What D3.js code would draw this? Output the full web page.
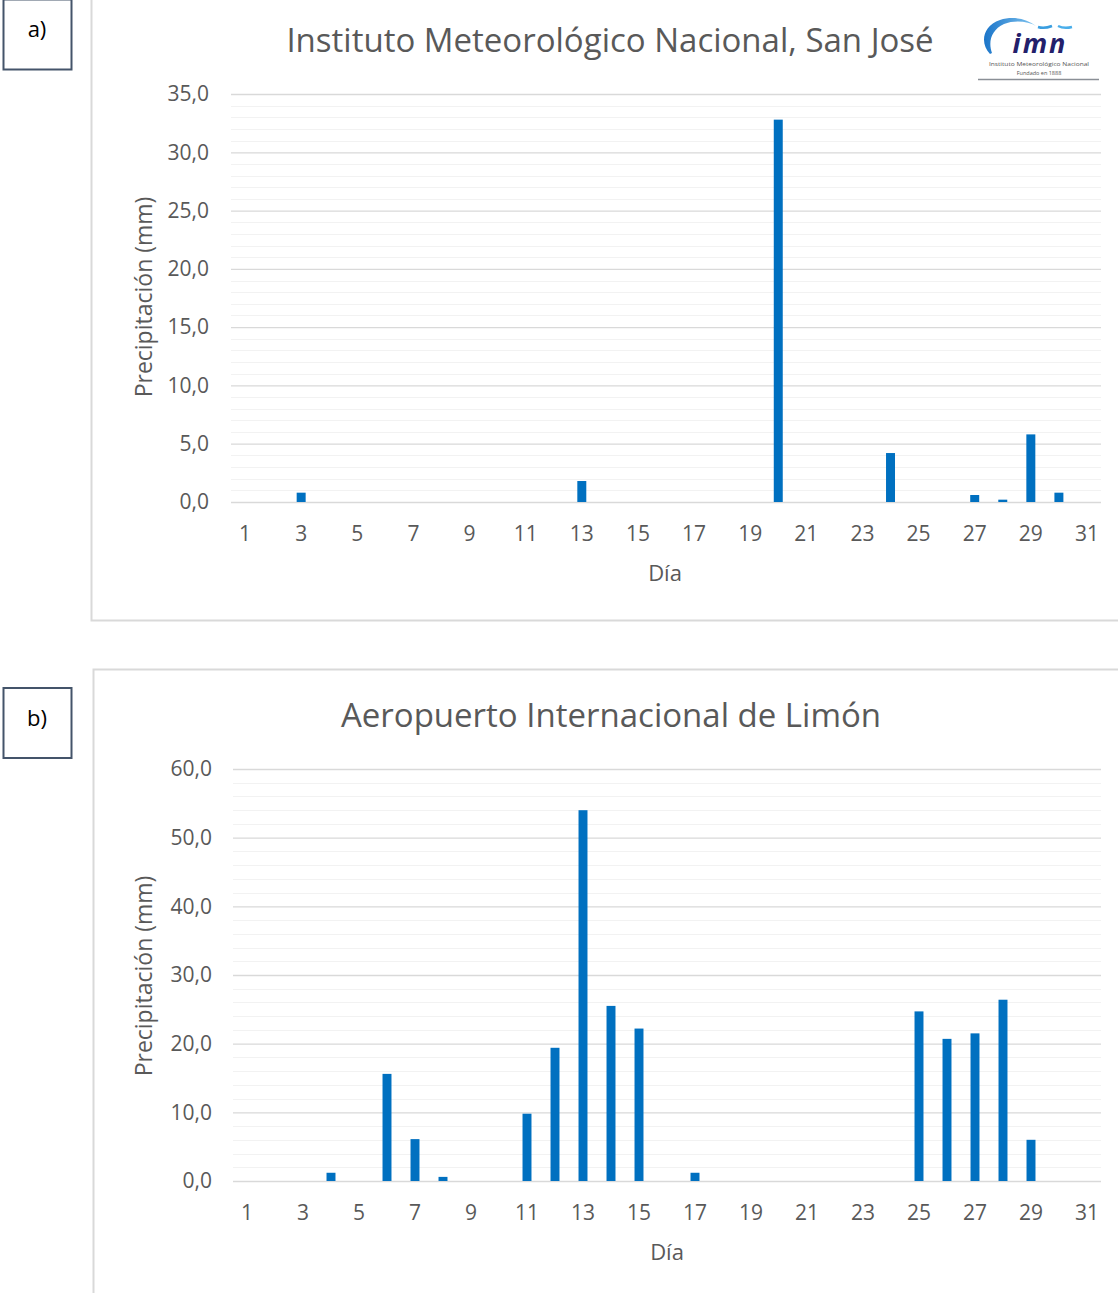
<!DOCTYPE html>
<html>
<head>
<meta charset="utf-8">
<script src="https://cdn.jsdelivr.net/npm/d3@7/dist/d3.min.js"></script>
<style>
  html, body { margin: 0; padding: 0; background: #fff; }
  svg { display: block; }
  text { font-family: "Open Sans", "Noto Sans", sans-serif; }
</style>
</head>
<body>
<svg id="fig" width="1118" height="1293"></svg>
<script>
// Daily precipitation (mm) by day of month
const days = d3.range(1, 32);
const tickDays = days.filter(d => d % 2 === 1);

const sanJose = [
  0, 0, 0.8, 0, 0, 0, 0, 0, 0, 0,
  0, 0, 1.8, 0, 0, 0, 0, 0, 0, 32.8,
  0, 0, 0, 4.2, 0, 0, 0.6, 0.2, 5.8, 0.8, 0
];
const limon = [
  0, 0, 0, 1.2, 0, 15.6, 6.1, 0.6, 0, 0,
  9.8, 19.4, 54.0, 25.5, 22.2, 0, 1.2, 0, 0, 0,
  0, 0, 0, 0, 24.7, 20.7, 21.5, 26.4, 6.0, 0, 0
];

const sanJoseTicks = [0, 5, 10, 15, 20, 25, 30, 35];
const limonTicks = [0, 10, 20, 30, 40, 50, 60];

const titleA = "Instituto Meteorológico Nacional, San José";
const titleB = "Aeropuerto Internacional de Limón";
const yTitle = "Precipitación (mm)";
const xTitle = "Día";

const svg = d3.select("#fig");
const fmt = v => d3.format(".1f")(v).replace(".", ",");
const textColor = "#595959";
const barColor = "#0070c0";

// Chart frames (light grey borders)
const frameColor = "#d9d9d9";
svg.append("path")
  .attr("d", "M91.5,0 V620.5 H1118")
  .attr("fill", "none").attr("stroke", frameColor).attr("stroke-width", 2);
svg.append("path")
  .attr("d", "M93.5,1293 V669.5 H1118")
  .attr("fill", "none").attr("stroke", frameColor).attr("stroke-width", 2);

// Panel labels
function panelLabel(y0, txt) {
  svg.append("rect").attr("x", 3.5).attr("y", y0 + 0.5).attr("width", 68).attr("height", 70)
    .attr("fill", "#fff").attr("stroke", "#44546a").attr("stroke-width", 2);
  svg.append("text").attr("x", 37).attr("y", y0 + 38)
    .attr("text-anchor", "middle").attr("font-size", 22).attr("fill", "#000")
    .text(txt);
}
panelLabel(-1, "a)");
panelLabel(687.5, "b)");

function drawPanel(cfg) {
  const g = svg.append("g");
  const x = d3.scaleBand().domain(days).range([cfg.left, cfg.right])
    .paddingInner(0.68).paddingOuter(0.34);
  const y = d3.scaleLinear().domain([0, cfg.yMax]).range([cfg.bottom, cfg.top]);

  // minor gridlines
  const minor = d3.range(0, cfg.yMax + 1e-9, cfg.minorStep)
    .filter(v => Math.abs(v / cfg.majorStep - Math.round(v / cfg.majorStep)) > 1e-6);
  g.append("g").selectAll("line").data(minor).join("line")
    .attr("x1", cfg.left).attr("x2", cfg.right)
    .attr("y1", d => Math.round(y(d)) + 0.5).attr("y2", d => Math.round(y(d)) + 0.5)
    .attr("stroke", "#f2f2f2").attr("stroke-width", 1.2);

  // major gridlines + y tick labels
  const yAxis = d3.axisLeft(y).tickValues(cfg.ticks).tickFormat(fmt)
    .tickSize(-(cfg.right - cfg.left)).tickPadding(cfg.yPad);
  const ya = g.append("g").attr("transform", `translate(${cfg.left},0)`).call(yAxis);
  ya.select(".domain").remove();
  ya.selectAll(".tick line").attr("stroke", "#d9d9d9").attr("stroke-width", 1.3);
  ya.selectAll(".tick text").attr("fill", textColor).attr("font-size", 21)
    .attr("font-family", "Open Sans, sans-serif");

  // bars
  g.append("g").selectAll("rect")
    .data(cfg.values.map((v, i) => ({ day: days[i], v })).filter(d => d.v > 0))
    .join("rect")
    .attr("x", d => x(d.day))
    .attr("width", x.bandwidth())
    .attr("y", d => y(d.v))
    .attr("height", d => y(0) - y(d.v))
    .attr("fill", barColor);

  // x axis labels
  const xAxis = d3.axisBottom(x).tickValues(tickDays).tickSize(0).tickPadding(24);
  const xa = g.append("g").attr("transform", `translate(0,${cfg.bottom})`).call(xAxis);
  xa.select(".domain").remove();
  xa.selectAll(".tick text").attr("fill", textColor).attr("font-size", 21)
    .attr("font-family", "Open Sans, sans-serif");

  // axis titles
  g.append("text").attr("x", cfg.xTitleX).attr("y", cfg.bottom + 79)
    .attr("text-anchor", "middle").attr("font-size", 22).attr("fill", textColor).text(xTitle);
  g.append("text")
    .attr("transform", `translate(152,${cfg.yTitleY}) rotate(-90)`)
    .attr("text-anchor", "middle").attr("font-size", 23).attr("fill", textColor).text(yTitle);

  // chart title
  g.append("text").attr("x", cfg.titleX).attr("y", cfg.titleY)
    .attr("text-anchor", "middle").attr("font-size", 33).attr("fill", textColor)
    .text(cfg.title);
}

drawPanel({
  values: sanJose, ticks: sanJoseTicks, yMax: 35, majorStep: 5, minorStep: 1,
  left: 231, right: 1101, top: 94, bottom: 502, yPad: 22,
  title: titleA, titleX: 610, titleY: 52, xTitleX: 665, yTitleY: 297
});
drawPanel({
  values: limon, ticks: limonTicks, yMax: 60, majorStep: 10, minorStep: 2,
  left: 233, right: 1101, top: 769, bottom: 1181, yPad: 21,
  title: titleB, titleX: 611, titleY: 727, xTitleX: 667, yTitleY: 976
});

// Institute logo (top right)
const logo = svg.append("g").attr("transform", "translate(978,12)");
const swoosh = logo.append("defs").append("linearGradient").attr("id", "sw")
  .attr("x1", 0).attr("x2", 1);
swoosh.append("stop").attr("offset", 0).attr("stop-color", "#1b75c9");
swoosh.append("stop").attr("offset", 1).attr("stop-color", "#7fc4f0");
logo.append("path")
  .attr("d", "M12,42 C2,32 4,14 22,8 C34,4 48,6 58,14 C50,9 36,8 26,12 C13,18 10,30 14,41 Z")
  .attr("fill", "url(#sw)");
logo.append("path").attr("d", "M60,15 Q66,17 74,14").attr("stroke", "#3a9ee0")
  .attr("stroke-width", 2.5).attr("fill", "none");
logo.append("path").attr("d", "M80,14 Q86,17 94,15").attr("stroke", "#4aaeea")
  .attr("stroke-width", 2.5).attr("fill", "none");
logo.append("text").attr("x", 62).attr("y", 41).attr("text-anchor", "middle")
  .attr("font-family", "DejaVu Serif, serif").attr("font-style", "italic")
  .attr("font-weight", "bold").attr("font-size", 27).attr("fill", "#23206b")
  .attr("letter-spacing", 2).text("imn");
logo.append("text").attr("x", 61).attr("y", 54).attr("text-anchor", "middle")
  .attr("font-size", 5.5).attr("fill", "#555")
  .attr("textLength", 100).attr("lengthAdjust", "spacingAndGlyphs")
  .text("Instituto Meteorológico Nacional");
logo.append("text").attr("x", 61).attr("y", 62.8).attr("text-anchor", "middle")
  .attr("font-size", 5.5).attr("fill", "#555").text("Fundado en 1888");
logo.append("line").attr("x1", 0).attr("x2", 121).attr("y1", 67.5).attr("y2", 67.5)
  .attr("stroke", "#8a8f96").attr("stroke-width", 1.5);
</script>
</body>
</html>
